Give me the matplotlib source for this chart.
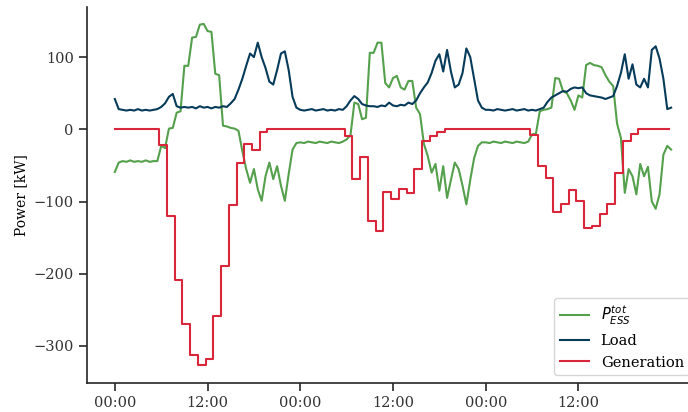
import numpy as np
import matplotlib
matplotlib.use("Agg")
import matplotlib.pyplot as plt

# half-hourly samples, 0h .. 72h
load = [42, 28, 27, 26, 27, 26, 28, 26, 27, 26,
        27, 28, 31, 36, 45, 49, 32, 30, 31, 30,
        31, 29, 32, 30, 31, 29, 31, 30, 32, 31,
        36, 42, 55, 70, 88, 105, 100, 120, 100, 85,
        66, 62, 82, 105, 108, 82, 45, 30,
        27, 26, 27, 28, 26, 27, 28, 26, 27, 26,
        28, 27,
        32, 40, 46, 42, 35, 33, 32, 32,
        31, 33, 32, 37, 33, 32, 34, 33, 37, 35,
        40, 50, 58, 65, 78, 95, 104, 80, 110, 80,
        58, 62, 78, 112, 100, 70, 40, 30,
        27, 27, 26, 28, 27, 26, 27, 28, 26, 27,
        28, 26, 27, 26, 28, 30,
        38, 44, 47, 50, 53, 52, 56, 58, 57, 58,
        50, 47, 46, 45, 44, 42, 44, 46,
        60, 78, 104, 70, 90, 62, 58, 70, 58, 110, 115, 98, 70, 28, 30]

p_ess = [-59, -46, -44, -45, -43, -45, -44, -45, -43, -45,
         -44, -44, -23, -26, 1, 2, 23, 25, 88, 88,
         127, 128, 145, 146, 136, 135, 77, 75, 5, 4,
         2, 1, -2, -30, -55, -74, -55, -83, -99, -65,
         -46, -69, -51, -78, -99, -62, -28, -19,
         -18, -19, -17, -18, -19, -17, -18, -19, -17, -18,
         -19, -17,
         -14, -8, 37, 35, 14, 16, 106, 106,
         120, 120, 64, 58, 71, 74, 58, 55, 67, 67,
         30, 21, -20, -37, -60, -48, -85, -51, -95, -70,
         -46, -55, -78, -104, -70, -40, -23, -18,
         -18, -19, -17, -18, -19, -17, -18, -19, -17, -18,
         -19, -17,
         -7, -6, 25, 27, 28, 30, 71, 70,
         53, 50, 40, 27, 47, 44, 89, 92, 89, 88,
         86, 75, 66, 60, 8, -12, -88, -55, -65, -90,
         -48, -65, -52, -100, -110, -90, -35, -23, -28]

# hourly generation steps
generation = [0, 0, 0, 0, 0, 0, -22, -120, -208, -270, -312, -326,
              -318, -258, -189, -105, -46, -21, -29, -4, 0, 0, 0, 0,
              0, 0, 0, 0, 0, 0, -9, -69, -39, -127, -141, -87,
              -96, -82, -88, -55, -16, -9, -4, 0, 0, 0, 0, 0,
              0, 0, 0, 0, 0, 0, -8, -51, -67, -115, -104, -84,
              -99, -136, -134, -117, -104, -61, -16, -7, 0, 0, 0, 0]

tick_hours = [0, 12, 24, 36, 48, 60]
tick_labels = ["00:00", "12:00", "00:00", "12:00", "00:00", "12:00"]

plt.rcParams["font.family"] = ["DejaVu Serif"]
plt.rcParams["font.size"] = 10.5

t = np.arange(len(load)) * 0.5
t_gen = np.r_[0, np.arange(1, len(generation)) - 0.25, len(generation) - 0.25]
g = np.r_[generation, generation[-1]]

fig = plt.figure(figsize=(6.88, 4.12), dpi=100)
ax = fig.add_axes([0.1265, 0.0711, 0.8866, 0.9126])

ax.plot(t, p_ess, color="#55a04c", lw=1.5, label=r"$P_{ESS}^{tot}$")
ax.plot(t, load, color="#073b5a", lw=1.5, label="Load")
ax.step(t_gen, g, where="post", color="#d9263a", lw=1.5, label="Generation")

ax.set_xlim(-3.6, 75.35)
ax.set_ylim(-350.9, 169.8)
ax.set_xticks(tick_hours)
ax.set_xticklabels(tick_labels)
ax.set_yticks([-300, -200, -100, 0, 100])
ax.set_ylabel("Power [kW]", fontsize=10)

for s in ["top", "right"]:
    ax.spines[s].set_visible(False)
for s in ["left", "bottom"]:
    ax.spines[s].set_color("#262626")
    ax.spines[s].set_linewidth(1.2)
ax.tick_params(colors="#262626", length=6, width=1.2, labelcolor="#333333")

ax.legend(loc="lower right", fancybox=True, framealpha=0.8, edgecolor="#cccccc")

fig.savefig("out.png", dpi=100)
